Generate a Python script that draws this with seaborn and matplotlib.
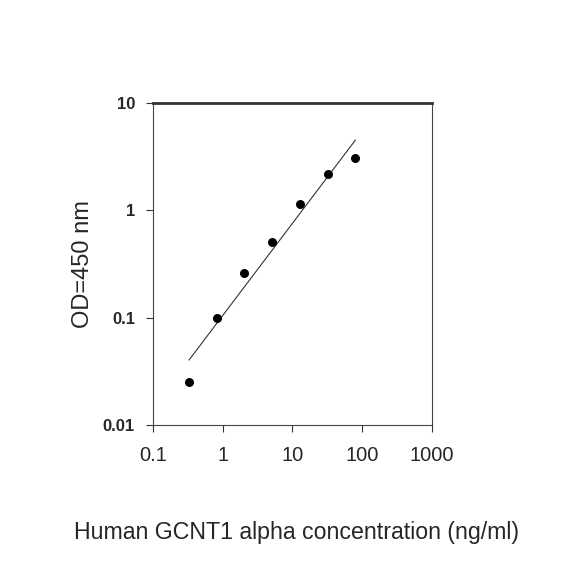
import numpy as np
import seaborn as sns
import matplotlib.pyplot as plt
import pandas as pd

# standard curve values
concentration = [0.328, 0.819, 2.048, 5.12, 12.8, 32.0, 80.0]
od_450 = [0.0252, 0.099, 0.263, 0.511, 1.15, 2.17, 3.05]

x_ticks = [0.1, 1, 10, 100, 1000]
x_tick_labels = ["0.1", "1", "10", "100", "1000"]
y_ticks = [0.01, 0.1, 1, 10]
y_tick_labels = ["0.01", "0.1", "1", "10"]

sns.set_style("white")
plt.rcParams['font.family'] = ['Liberation Sans', 'DejaVu Sans']

data = pd.DataFrame({"conc": concentration, "od": od_450})

# power-law fit (straight line in log-log space)
slope, intercept = np.polyfit(np.log10(data["conc"]), np.log10(data["od"]), 1)
fit = pd.DataFrame({"conc": [data["conc"].min(), data["conc"].max()]})
fit["od"] = 10 ** (intercept + slope * np.log10(fit["conc"]))

fig = plt.figure(figsize=(5.84, 5.84), dpi=100)
ax = fig.add_axes([0.262, 0.2723, 0.4777, 0.5514])

sns.lineplot(data=fit, x="conc", y="od", ax=ax, color="#333333", linewidth=0.8)
sns.scatterplot(data=data, x="conc", y="od", ax=ax, color="black", s=42,
                edgecolor="black", linewidth=0, zorder=3)

ax.set_xscale("log")
ax.set_yscale("log")
ax.set_xlim(0.1, 1000)
ax.set_ylim(0.01, 10)
ax.set_xticks(x_ticks)
ax.set_xticklabels(x_tick_labels, fontsize=14.5)
ax.set_yticks(y_ticks)
ax.set_yticklabels(y_tick_labels, fontsize=12, fontweight="bold")
ax.minorticks_off()
ax.tick_params(axis="both", direction="out", length=5, width=0.8, color="#333333",
               bottom=True, left=True)
ax.tick_params(axis="x", pad=10)
ax.tick_params(axis="y", pad=8)

for side in ["left", "bottom", "right"]:
    ax.spines[side].set_color("#444444")
    ax.spines[side].set_linewidth(0.8)
ax.spines["top"].set_color("#333333")
ax.spines["top"].set_linewidth(2.0)

ax.set_xlabel("")
ax.set_ylabel("OD=450 nm", fontsize=17, labelpad=6)
fig.text(0.508, 0.089, "Human GCNT1 alpha concentration (ng/ml)", fontsize=16.7,
         ha="center", va="center")

fig.savefig("out.png", dpi=100)
